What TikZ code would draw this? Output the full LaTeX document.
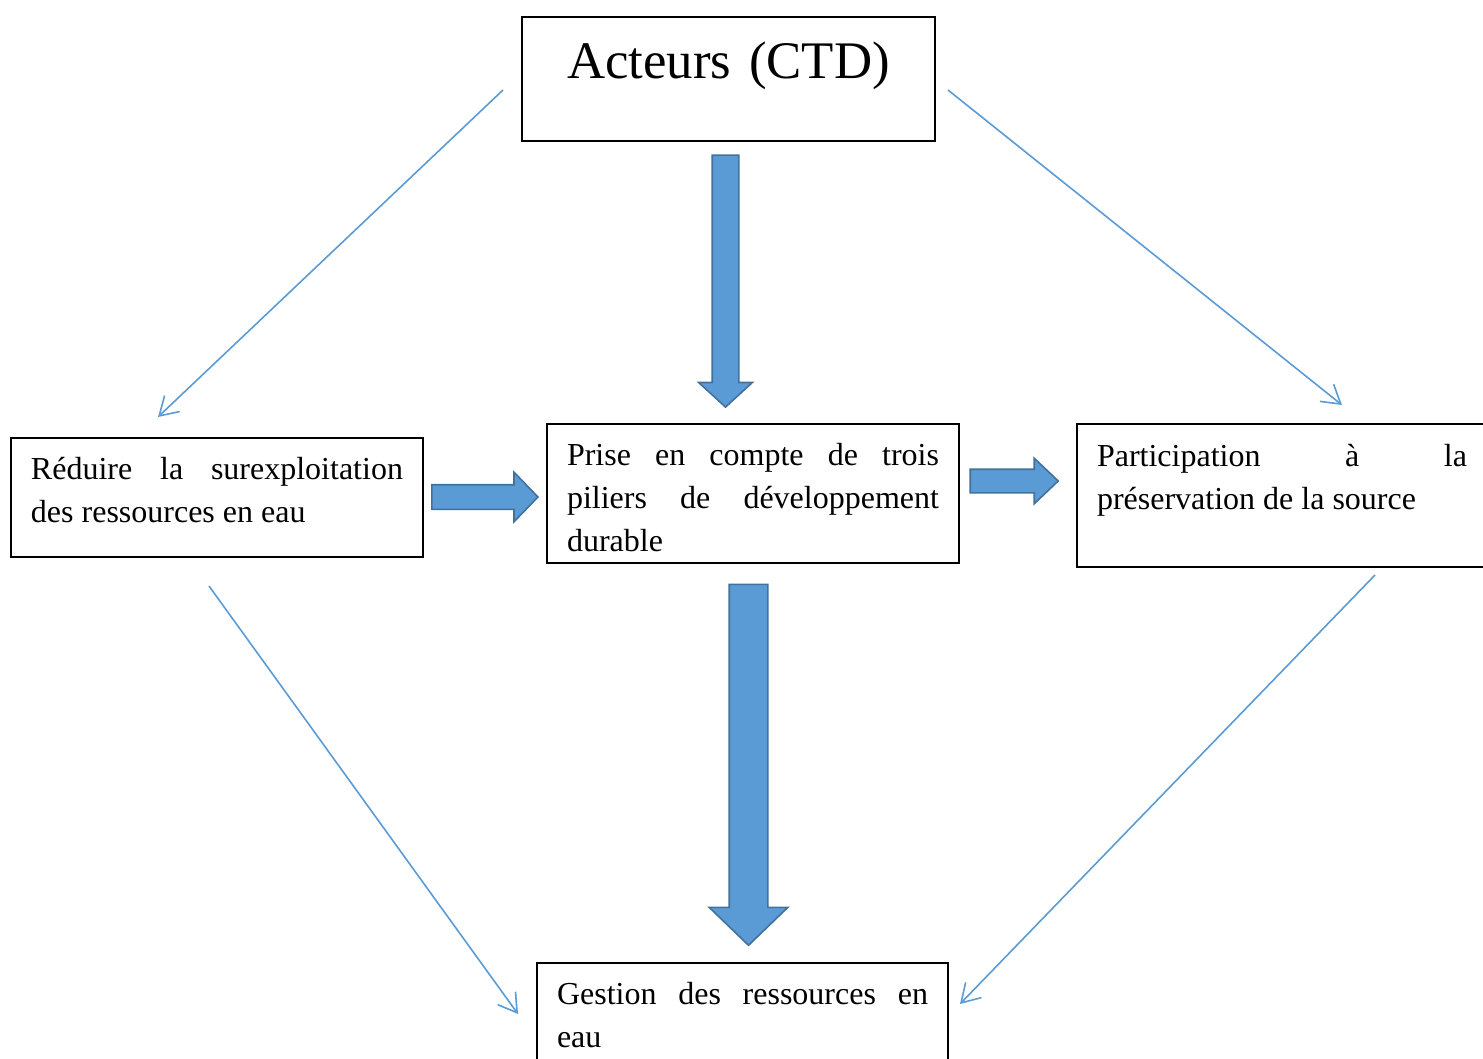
\documentclass[tikz,border=0pt]{standalone}
\usepackage{fontspec}
\setmainfont{Liberation Serif}
\usetikzlibrary{shapes.arrows,arrows.meta}
\definecolor{fleche}{HTML}{5B9BD5}
\definecolor{bordfleche}{HTML}{41719C}
\tikzset{
  box/.style={draw,line width=1pt,anchor=north west,inner xsep=10pt,
              inner ysep=0pt,text width=186pt,align=justify,
              font=\fontsize{16}{21.5}\selectfont},
  bloc/.style={single arrow,draw=bordfleche,fill=fleche,line width=0.8pt,
               inner xsep=0pt,anchor=center},
  lien/.style={draw=fleche,line width=0.8pt,
               -{Straight Barb[length=9pt,width=11pt]}}
}
\begin{document}
\begin{tikzpicture}[x=0.5pt,y=-0.5pt]
  \useasboundingbox (0,0) rectangle (1483,1059);
  % cadres
  \node[box,align=center,text width=186.5pt,text height=31pt,text depth=31pt,
        font=\fontsize{26.4}{30}\selectfont] (acteurs) at (521,16) {Acteurs (CTD)};
  \node[box,text height=20.5pt,text depth=39pt] (reduire) at (10,437)
    {Réduire la surexploitation\linebreak des ressources en eau};
  \node[box,text height=20.5pt,text depth=49pt] (prise) at (546,423)
    {Prise en compte de trois\linebreak piliers de développement\linebreak durable};
  \node[box,text height=21pt,text depth=50.5pt,text width=185pt] (particip) at (1076,423)
    {Participation à la\linebreak préservation de la source};
  \node[box,text height=20.5pt,text depth=38.5pt,text width=185.5pt] (gestion) at (536,962)
    {Gestion des ressources en\linebreak eau};
  % grosses fleches
  \node[bloc,rotate=-90,minimum height=126pt,inner ysep=6.25pt,
        single arrow head extend=6.75pt,single arrow tip angle=95] (flhaut) at (725.5,275) {};
  \node[bloc,rotate=-90,minimum height=180.5pt,inner ysep=9.25pt,
        single arrow head extend=10pt,single arrow tip angle=92] (flbas) at (748.5,755.5) {};
  \node[bloc,minimum height=53pt,inner ysep=5.75pt,
        single arrow head extend=6.25pt,single arrow tip angle=92] (flgauche) at (479,497) {};
  \node[bloc,minimum height=44pt,inner ysep=5.5pt,
        single arrow head extend=5.5pt,single arrow tip angle=87] (fldroite) at (1008,481) {};
  % fleches fines
  \coordinate (d1) at (503,90);   \coordinate (f1) at (158,417);
  \coordinate (d2) at (948,90);   \coordinate (f2) at (1342,405);
  \coordinate (d3) at (209,586);  \coordinate (f3) at (518,1014);
  \coordinate (d4) at (1375,575); \coordinate (f4) at (960,1004);
  \draw[lien] (d1) -- (f1);
  \draw[lien] (d2) -- (f2);
  \draw[lien] (d3) -- (f3);
  \draw[lien] (d4) -- (f4);
\end{tikzpicture}
\end{document}
